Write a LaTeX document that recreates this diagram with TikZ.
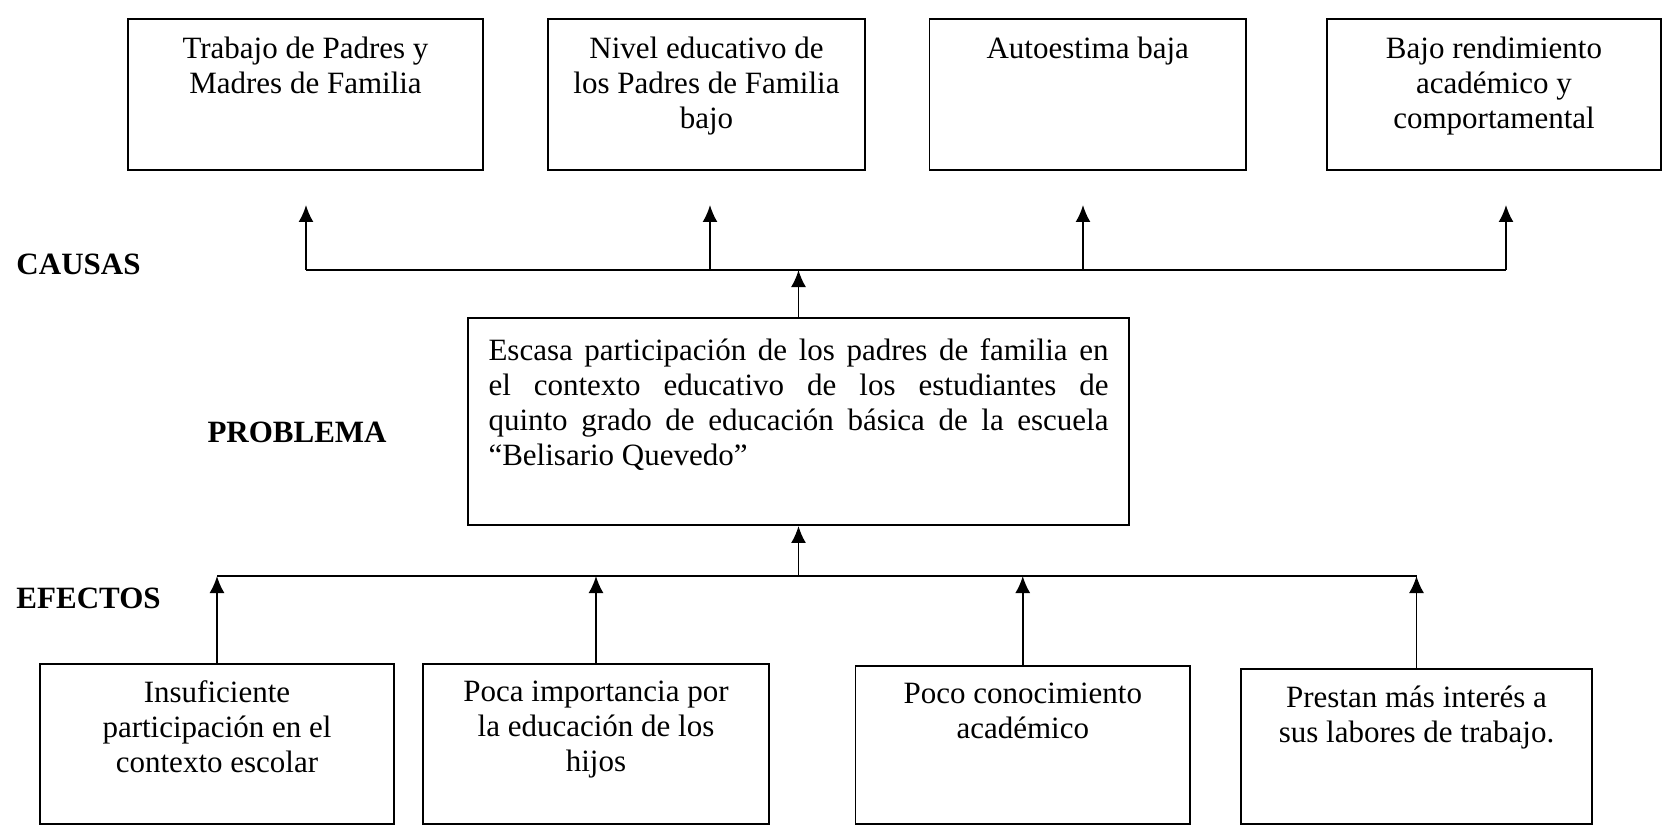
\documentclass[tikz,border=0pt]{standalone}
\usepackage{fontspec}
\setmainfont{Liberation Serif}
\usetikzlibrary{arrows.meta}

\begin{document}
\begin{tikzpicture}[x=0.4pt, y=-0.4pt,
	box/.style={draw, line width=0.75pt, inner sep=0pt},
	txt/.style={align=center, font=\fontsize{12.4}{14}\selectfont, inner sep=0pt},
	head/.style={font=\fontsize{12.4}{14}\selectfont\bfseries, inner sep=0pt, anchor=west},
	arr/.style={line width=0.75pt, -{Latex[length=6.8pt, width=6pt]}}]
	\useasboundingbox (0,0) rectangle (1664,825);
	% causas
	\node[box, minimum width=142pt, minimum height=60.4pt] (c1) at (305.5,94.5) {};
	\node[box, minimum width=126.8pt, minimum height=60.4pt] (c2) at (706.5,94.5) {};
	\node[box, minimum width=126.6pt, minimum height=60.4pt] (c3) at (1087.75,94.5) {};
	\node[box, minimum width=133.6pt, minimum height=60.4pt] (c4) at (1494,94.5) {};
	\node[txt, below=7.5pt] (c1t) at (c1.north) {Trabajo de Padres y\\Madres de Familia};
	\node[txt, below=7.5pt] (c2t) at (c2.north) {Nivel educativo de\\los Padres de Familia\\bajo};
	\node[txt, below=7.5pt] (c3t) at (c3.north) {Autoestima baja};
	\node[txt, below=7.5pt] (c4t) at (c4.north) {Bajo rendimiento\\académico y\\comportamental};
	\foreach \x/\n in {306/1,710/2,1083/3,1506/4}{
		\coordinate (cb\n) at (\x,270);
		\coordinate (ct\n) at (\x,205);
		\draw[arr] (cb\n) -- (ct\n);
	}
	\draw[line width=0.75pt] (cb1) -- (cb4);
	\node[head] (causas) at (16,264) {CAUSAS};
	% problema
	\node[box, minimum width=264.4pt, minimum height=82.8pt] (p) at (798.5,421.5) {};
	\node[txt, align=justify, text width=248pt, anchor=north west] (pt) at (488,338)
		{Escasa participación de los padres de familia en\linebreak el contexto educativo de los estudiantes de\linebreak quinto grado de educación básica de la escuela\linebreak “Belisario Quevedo”};
	\draw[arr] (p.north) -- (p.north |- cb1);
	\node[head] (problema) at (207,432) {PROBLEMA};
	% efectos
	\node[box, minimum width=141.6pt, minimum height=64pt] (e1) at (217,743.75) {};
	\node[box, minimum width=138.4pt, minimum height=64pt] (e2) at (596,743.75) {};
	\node[box, minimum width=133.8pt, minimum height=63.1pt] (e3) at (1022.75,744.9) {};
	\node[box, minimum width=140.4pt, minimum height=61.9pt] (e4) at (1416.5,746.25) {};
	\node[txt, below=7pt] (e1t) at (e1.north) {Insuficiente\\participación en el\\contexto escolar};
	\node[txt, below=7pt] (e2t) at (e2.north) {Poca importancia por\\la educación de los\\hijos};
	\node[txt, below=7pt] (e3t) at (e3.north) {Poco conocimiento\\académico};
	\node[txt, below=7pt] (e4t) at (e4.north) {Prestan más interés a\\sus labores de trabajo.};
	\coordinate (el) at (217,576);
	\draw[line width=0.75pt] (el) -- (e4.north |- el);
	\foreach \n in {1,...,4}{
		\draw[arr] (e\n.north) -- (e\n.north |- el);
	}
	\draw[arr] (p.south |- el) -- (p.south);
	\node[head] (efectos) at (16,598) {EFECTOS};
\end{tikzpicture}
\end{document}
